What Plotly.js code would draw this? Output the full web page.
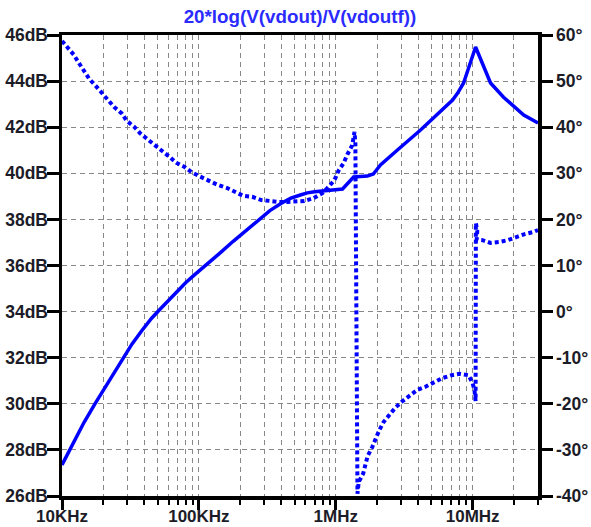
<!DOCTYPE html>
<html>
<head>
<meta charset="utf-8">
<script src="https://cdn.plot.ly/plotly-3.0.1.min.js"></script>
<style>html,body{margin:0;padding:0;background:#fff;}#chart{width:591px;height:527px;}</style>
</head>
<body>
<div id="chart"></div>
<script>
// Magnitude (dB)
const magFreq = [1e4, 1.14e4, 1.24e4, 1.45e4, 1.74e4, 2.06e4, 2.4e4, 2.79e4, 3.25e4, 3.8e4, 4.5e4, 5.2e4,
  6.5e4, 8.0e4, 9.1e4, 1.15e5, 1.43e5, 1.78e5, 2.2e5, 2.72e5, 3.3e5, 4.0e5, 4.7e5, 5.51e5, 6.2e5, 7.0e5,
  8.68e5, 1.12e6, 1.35e6, 1.70e6, 1.88e6, 2.12e6, 2.82e6, 3.4e6, 4.16e6, 7.13e6, 7.77e6, 8.58e6,
  1.05e7, 1.35e7, 1.68e7, 2.36e7, 3e7];
const magDb = [27.35, 28.0, 28.45, 29.2, 30.0, 30.7, 31.35, 32.0, 32.6, 33.15, 33.7, 34.1,
  34.72, 35.25, 35.55, 36.05, 36.55, 37.05, 37.52, 38.0, 38.38, 38.7, 38.92, 39.06, 39.15, 39.2,
  39.25, 39.32, 39.84, 39.88, 39.97, 40.36, 41.01, 41.44, 41.88, 43.18, 43.48, 43.92,
  45.48, 43.92, 43.3, 42.53, 42.18];

// Phase (degrees)
const phFreq = [1e4, 1.11e4, 1.22e4, 1.33e4, 1.45e4, 1.58e4, 1.77e4, 1.96e4, 2.13e4, 2.40e4, 2.73e4, 2.97e4,
  3.36e4, 3.72e4, 4.21e4, 4.73e4, 5.36e4, 6.09e4, 6.82e4, 7.85e4, 8.89e4, 1.02e5, 1.19e5, 1.37e5, 1.61e5,
  1.84e5, 2.11e5, 2.45e5, 2.86e5, 3.32e5, 3.80e5, 4.43e5, 5.06e5, 5.89e5, 6.86e5, 7.98e5, 8.68e5, 9.77e5,
  1.045e6, 1.14e6, 1.22e6, 1.32e6, 1.37e6, 1.39e6, 1.44e6, 1.47e6, 1.586e6, 1.71e6, 1.84e6, 1.95e6, 2.08e6,
  2.24e6, 2.47e6, 2.73e6, 3.05e6, 3.45e6, 3.93e6, 4.52e6, 5.2e6, 6.03e6, 7.01e6, 8.02e6, 9.33e6, 9.98e6,
  1.03e7, 1.05e7, 1.055e7, 1.08e7, 1.07e7, 1.18e7, 1.35e7, 1.57e7, 1.80e7, 2.09e7, 2.40e7, 2.79e7, 3.0e7];
const phDeg = [58.7, 57.2, 55.7, 53.9, 52.2, 50.5, 48.9, 47.4, 45.9, 44.4, 43.0, 41.4,
  40.1, 38.7, 37.4, 36.1, 34.9, 33.6, 32.3, 31.4, 30.2, 29.3, 28.3, 27.5, 26.8,
  26.0, 25.1, 24.9, 24.2, 24.0, 23.8, 23.8, 23.8, 24.0, 24.6, 25.7, 26.8, 28.5,
  30.5, 32.2, 34.2, 36.1, 39.0, 36.5, -39.5, -37.0, -35.1, -31.3, -29.5, -27.6, -25.7,
  -23.9, -22.3, -20.8, -19.5, -18.2, -17.0, -16.3, -15.3, -14.4, -13.8, -13.5, -13.8, -15.5,
  -17.0, -19.4, 19.2, 17.5, 15.6, 15.5, 14.9, 15.1, 15.5, 16.2, 16.8, 17.3, 17.7];

// Axis ticks
const xMajorVals = [1e4, 1e5, 1e6, 1e7];
const xMajorText = ['10KHz', '100KHz', '1MHz', '10MHz'];
const xMinorVals = [2e4,3e4,4e4,5e4,6e4,7e4,8e4,9e4, 2e5,3e5,4e5,5e5,6e5,7e5,8e5,9e5,
  2e6,3e6,4e6,5e6,6e6,7e6,8e6,9e6, 2e7,3e7];
const dbVals = [26, 28, 30, 32, 34, 36, 38, 40, 42, 44, 46];
const dbText = ['26dB','28dB','30dB','32dB','34dB','36dB','38dB','40dB','42dB','44dB','46dB'];
const degVals = [-40, -30, -20, -10, 0, 10, 20, 30, 40, 50, 60];
const degText = ['-40°','-30°','-20°','-10°','0°','10°','20°','30°','40°','50°','60°'];

const titleText = '20*log(V(vdout)/V(vdoutf))';

const FONT = 'Liberation Sans, Arial, sans-serif';
const tickFont = {family: FONT, size: 17.5, color: '#1c1c28', weight: 'bold'};
const xTickFont = {family: FONT, size: 17, color: '#1c1c28', weight: 'bold'};
const gridCol = '#888888';

const traces = [
  {x: magFreq, y: magDb, type: 'scatter', mode: 'lines', yaxis: 'y',
   line: {color: '#0000ff', width: 3.5}},
  {x: phFreq, y: phDeg, type: 'scatter', mode: 'lines', yaxis: 'y2',
   line: {color: '#0000ff', width: 4, dash: '4px,3px'}}
];

const layout = {
  width: 591, height: 527,
  margin: {l: 62, r: 53, t: 35, b: 31, pad: 0},
  paper_bgcolor: '#ffffff', plot_bgcolor: '#ffffff',
  showlegend: false, hovermode: false,
  title: {text: titleText, x: 0.5, xref: 'paper', xanchor: 'center',
          y: 0.968, yref: 'container', yanchor: 'middle',
          font: {family: FONT, size: 18.8, color: '#2b2bff', weight: 'bold'}},
  xaxis: {type: 'log', range: [4, Math.log10(3e7)], tickmode: 'array',
          tickvals: xMajorVals, ticktext: xMajorText, tickfont: xTickFont,
          ticks: 'outside', ticklen: 10, tickwidth: 3, tickcolor: '#000', ticklabelstandoff: -8,
          showline: true, linecolor: '#000', linewidth: 3.5, mirror: true,
          showgrid: true, gridcolor: gridCol, gridwidth: 1, griddash: '5px,4px',
          zeroline: false, fixedrange: true,
          minor: {tickmode: 'array', tickvals: xMinorVals, ticks: 'outside', ticklen: 5,
                  tickwidth: 2, tickcolor: '#000', showgrid: true, gridcolor: gridCol,
                  gridwidth: 1, griddash: '5px,4px'}},
  yaxis: {range: [26, 46], tickmode: 'array', tickvals: dbVals, ticktext: dbText,
          tickfont: tickFont, ticks: 'outside', ticklen: 12, tickwidth: 3, tickcolor: '#000',
          ticklabelstandoff: -5,
          showline: true, linecolor: '#000', linewidth: 3.5,
          showgrid: true, gridcolor: gridCol, gridwidth: 1, griddash: '5px,4px',
          zeroline: false, fixedrange: true},
  yaxis2: {range: [-40, 60], overlaying: 'y', side: 'right', tickmode: 'array',
           tickvals: degVals, ticktext: degText, tickfont: tickFont,
           ticks: 'outside', ticklen: 11, tickwidth: 3, tickcolor: '#000',
           showline: true, linecolor: '#000', linewidth: 3.5,
           showgrid: false, zeroline: false, fixedrange: true}
};

Plotly.newPlot('chart', traces, layout, {displayModeBar: false, staticPlot: true});
</script>
</body>
</html>
